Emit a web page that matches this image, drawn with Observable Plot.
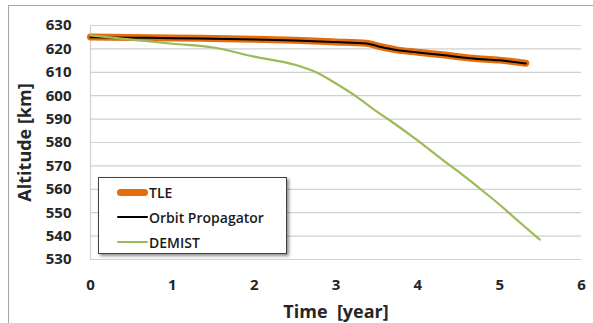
<!DOCTYPE html>
<html><head><meta charset="utf-8">
<script src="https://cdn.jsdelivr.net/npm/d3@7"></script>
<script src="https://cdn.jsdelivr.net/npm/@observablehq/plot@0.6"></script>
<style>
html,body{margin:0;padding:0;background:#fff;overflow:hidden;width:593px;height:323px;}
#wrap{position:relative;width:593px;height:323px;}
#frame{position:absolute;left:8px;top:5px;width:600px;height:340px;border:1px solid #a6a6a6;box-sizing:border-box;}
#chart{position:absolute;left:0;top:0;}
#legend{position:absolute;left:98px;top:177px;width:189px;height:77px;border:1px solid #404040;background:#fff;box-sizing:border-box;box-shadow:2px 2px 3px rgba(0,0,0,0.45);font-family:"Open Sans",sans-serif;font-size:14px;font-weight:600;color:#1a1a1a;}
.row{position:absolute;left:18px;height:20px;display:flex;align-items:center;}
.sw{width:31px;margin-right:1px;border-radius:4px;}
</style></head>
<body><div id="wrap"><div id="frame"></div><div id="chart"></div><div id="legend"></div></div>
<script>
const seriesNames = ["TLE", "Orbit Propagator", "DEMIST"];
const seriesColors = ["#E46C0A", "#000000", "#9BBB59"];
const seriesWidths = [7, 2, 2.2];

const tleTime = [0, 0.5, 1, 1.5, 2, 2.5, 3, 3.37, 3.55, 3.74, 4, 4.3, 4.67, 5, 5.32];
const tleAlt  = [625.1, 624.9, 624.7, 624.4, 624.1, 623.7, 623.0, 622.4, 620.9, 619.6, 618.6, 617.5, 616.0, 615.2, 613.9];

const opTime = [0, 0.5, 1, 1.5, 2, 2.5, 3, 3.37, 3.55, 3.74, 4, 4.3, 4.67, 5, 5.32];
const opAlt  = [625.0, 624.8, 624.6, 624.3, 624.0, 623.6, 622.9, 622.3, 620.8, 619.5, 618.5, 617.4, 615.9, 615.1, 613.8];

const demTime = [0, 0.5, 1, 1.5, 2, 2.5, 2.8, 3, 3.25, 3.5, 3.66, 4, 4.31, 4.5, 4.84, 5, 5.12, 5.3, 5.49];
const demAlt  = [625.8, 624, 622.2, 620.6, 616.7, 613.2, 609.3, 605.2, 599.6, 593.2, 589.4, 580.8, 572.4, 567.4, 558.0, 553.4, 549.7, 544.2, 538.5];

const xTicks = [0, 1, 2, 3, 4, 5, 6];
const yTicks = [530, 540, 550, 560, 570, 580, 590, 600, 610, 620, 630];

const toRows = (t, a) => t.map((v, i) => ({t: v, alt: a[i]}));
const tle = toRows(tleTime, tleAlt);
const op = toRows(opTime, opAlt);
const dem = toRows(demTime, demAlt);

const font = "'Open Sans', sans-serif";
const chart = Plot.plot({
  width: 593, height: 323,
  marginLeft: 90, marginRight: 12, marginTop: 25, marginBottom: 64,
  style: {fontFamily: font, background: "transparent", color: "#262626"},
  x: {domain: [0, 6]},
  y: {domain: [530, 630]},
  marks: [
    Plot.gridY(yTicks, {stroke: "#d0d0d0", strokeOpacity: 1, strokeWidth: 1.2}),
    Plot.ruleX([0], {stroke: "#d0d0d0", strokeWidth: 1.2}),
    Plot.axisY(yTicks, {tickSize: 0, tickPadding: 19, fontSize: 15, fontWeight: "bold", label: null}),
    Plot.axisX(xTicks, {tickSize: 0, tickPadding: 20, fontSize: 15, fontWeight: "bold", label: null}),
    Plot.axisY([], {label: "Altitude [km]", labelAnchor: "center", labelArrow: "none", labelOffset: 72, fontSize: 18, fontWeight: "bold"}),
    Plot.axisX([], {label: "Time\u00a0 [year]", labelAnchor: "center", labelArrow: "none", labelOffset: 58, fontSize: 18, fontWeight: "bold"}),
    Plot.line(tle, {x: "t", y: "alt", stroke: seriesColors[0], strokeWidth: seriesWidths[0], strokeLinecap: "round", curve: "monotone-x"}),
    Plot.line(op, {x: "t", y: "alt", stroke: seriesColors[1], strokeWidth: seriesWidths[1], curve: "monotone-x"}),
    Plot.line(dem, {x: "t", y: "alt", stroke: seriesColors[2], strokeWidth: seriesWidths[2], curve: "monotone-x"})
  ]
});
document.getElementById("chart").appendChild(chart);

const legend = document.getElementById("legend");
const tops = [4, 29, 54];
seriesNames.forEach((name, i) => {
  const row = document.createElement("div");
  row.className = "row";
  row.style.top = tops[i] + "px";
  const sw = document.createElement("div");
  sw.className = "sw";
  sw.style.height = seriesWidths[i] + "px";
  sw.style.background = seriesColors[i];
  row.appendChild(sw);
  const lab = document.createElement("span");
  lab.textContent = name;
  row.appendChild(lab);
  legend.appendChild(row);
});
</script></body></html>
